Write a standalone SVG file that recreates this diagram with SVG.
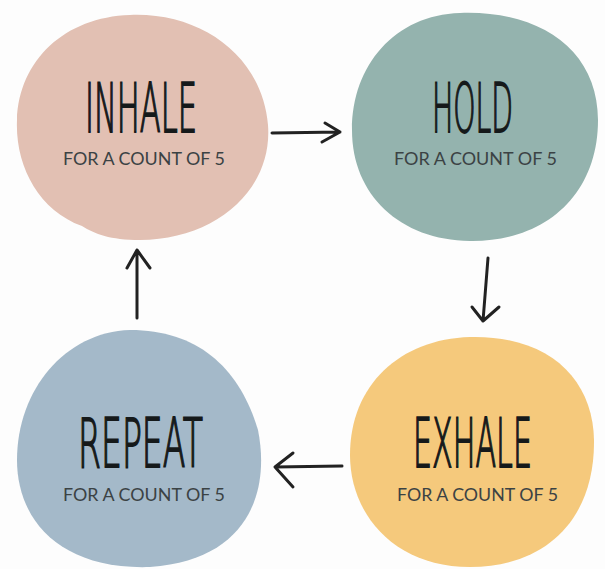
<svg xmlns="http://www.w3.org/2000/svg" width="605" height="569" viewBox="0 0 605 569">
<defs>
<style>
.title{font-family:"DejaVu Sans","Liberation Sans",sans-serif;font-weight:200;font-size:67px;fill:#15191a;stroke:#15191a;stroke-width:1.8px;}
.sub{font-family:Lato,"Liberation Sans",sans-serif;font-size:16.5px;fill:#3b4244;}
.conn{fill:none;stroke:#222;stroke-width:3;stroke-linecap:round;stroke-linejoin:round;}
</style>
</defs>
<rect width="605" height="569" fill="#fdfdfd"/>
<g id="inhale">
<path d="M 130 15 C 200 12, 262 55, 268 125 C 273 190, 215 240, 140 240 C 110 240, 95 234, 82 226 C 38 210, 15 165, 17 120 C 19 60, 65 17, 130 15 Z" fill="#e2c0b3"/>
<text class="title" x="85" y="132" textLength="112" lengthAdjust="spacingAndGlyphs">INHALE</text>
<text class="sub" x="63" y="165" textLength="162" lengthAdjust="spacingAndGlyphs">FOR A COUNT OF 5</text>
</g>
<g id="hold">
<path d="M 460 13 C 540 10, 598 50, 598 120 C 598 195, 545 242, 470 241 C 400 240, 352 195, 352 130 C 352 65, 395 15, 460 13 Z" fill="#94b3ae"/>
<text class="title" x="432" y="132" textLength="81" lengthAdjust="spacingAndGlyphs">HOLD</text>
<text class="sub" x="394" y="165" textLength="163" lengthAdjust="spacingAndGlyphs">FOR A COUNT OF 5</text>
</g>
<g id="exhale">
<path d="M 470 337 C 550 335, 593 380, 594 440 C 595 520, 545 567, 470 567 C 395 567, 350 515, 350 455 C 350 385, 400 339, 470 337 Z" fill="#f5c97c"/>
<text class="title" x="413" y="467" textLength="119" lengthAdjust="spacingAndGlyphs">EXHALE</text>
<text class="sub" x="397" y="501" textLength="161" lengthAdjust="spacingAndGlyphs">FOR A COUNT OF 5</text>
</g>
<g id="repeat">
<path d="M 130 330 C 200 330, 240 370, 258 430 C 270 490, 250 560, 150 567 C 60 570, 17 520, 17 460 C 17 390, 65 332, 130 330 Z" fill="#a4b9c9"/>
<text class="title" x="78" y="467" textLength="125" lengthAdjust="spacingAndGlyphs">REPEAT</text>
<text class="sub" x="63" y="501" textLength="162" lengthAdjust="spacingAndGlyphs">FOR A COUNT OF 5</text>
</g>
<g id="connectors">
<path class="conn" d="M 272 133 L 340 132 M 325 123 L 340 132 L 322 142"/>
<path class="conn" d="M 488 258 L 483 321 M 472 307 L 483 321 L 499 307"/>
<path class="conn" d="M 342 466 L 275 467 M 293 453 L 275 467 L 293 487"/>
<path class="conn" d="M 137 318 L 137 250 M 127 268 L 137 250 L 150 268"/>
</g>
</svg>
